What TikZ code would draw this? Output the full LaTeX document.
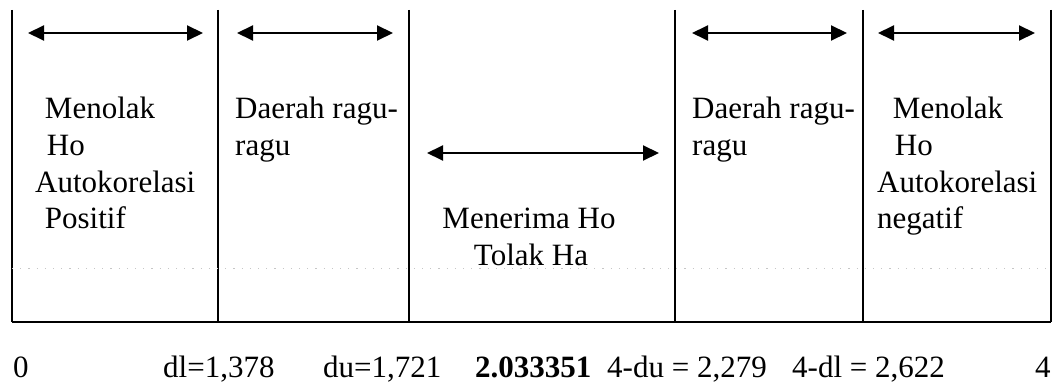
\documentclass[tikz,border=0pt]{standalone}
\usepackage{fontspec}
\setmainfont{Liberation Serif}
\usetikzlibrary{arrows.meta}
\begin{document}
\begin{tikzpicture}[x=1pt,y=-1pt,
  lbl/.style={anchor=base west,inner sep=0pt,font=\fontsize{31}{36.5}\selectfont},
  clbl/.style={lbl,anchor=base},
  divider/.style={line width=1.8pt},
  baseline rule/.style={line width=2.2pt},
  span/.style={line width=2pt,{Triangle[length=16pt,width=15pt]}-{Triangle[length=16pt,width=15pt]}},
  guide/.style={gray!45,line width=1pt,dash pattern=on 1.2pt off 7pt}]
\useasboundingbox (0,0) rectangle (1056,382);

% column boundaries
\foreach \i/\x in {1/12,2/218,3/409,4/675,5/863,6/1051}{
  \coordinate (t\i) at (\x,10);
  \coordinate (b\i) at (\x,322);
  \coordinate (g\i) at (\x,268);
}
\foreach \i in {1,...,6}{\draw[divider] (t\i) -- (b\i);}
\draw[baseline rule] (b1) -- (b6);
\draw[guide] (g1) -- (g6);

% range arrows
\coordinate (a1l) at (28,33);  \coordinate (a1r) at (203,33);
\coordinate (a2l) at (237,33); \coordinate (a2r) at (393,33);
\coordinate (a3l) at (427,153);\coordinate (a3r) at (659,153);
\coordinate (a4l) at (692,33); \coordinate (a4r) at (847,33);
\coordinate (a5l) at (878,33); \coordinate (a5r) at (1035,33);
\foreach \i in {1,...,5}{\draw[span] (a\i l) -- (a\i r);}

% region labels
\node[lbl] (c1a) at (37,119)   {\ Menolak};
\node[lbl] (c1b) at (39,155.5) {\ Ho};
\node[lbl] (c1c) at (35,192)   {Autokorelasi};
\node[lbl] (c1d) at (37,228.5) {\ Positif};

\node[lbl] (c2a) at (235,119)   {Daerah ragu-};
\node[lbl] (c2b) at (235,155.5) {ragu};

\node[clbl] (c3a) at (529,228.5) {Menerima Ho};
\node[clbl] (c3b) at (531,265)   {Tolak Ha};

\node[lbl] (c4a) at (692,119)   {Daerah ragu-};
\node[lbl] (c4b) at (692,155.5) {ragu};

\node[lbl] (c5a) at (885,119)   {\ Menolak};
\node[lbl] (c5b) at (887,155.5) {\ Ho};
\node[lbl] (c5c) at (877,192)   {Autokorelasi};
\node[lbl] (c5d) at (877,228.5) {negatif};

% critical values
\node[lbl] (v0) at (13,377)  {0};
\node[lbl] (v1) at (163,377) {dl=1,378};
\node[lbl] (v2) at (323,377) {du=1,721};
\node[lbl] (v3) at (475,377) {\textbf{2.033351}};
\node[lbl] (v4) at (607,377) {4-du = 2,279};
\node[lbl] (v5) at (792,377) {4-dl = 2,622};
\node[lbl] (v6) at (1035,377){4};
\end{tikzpicture}
\end{document}
